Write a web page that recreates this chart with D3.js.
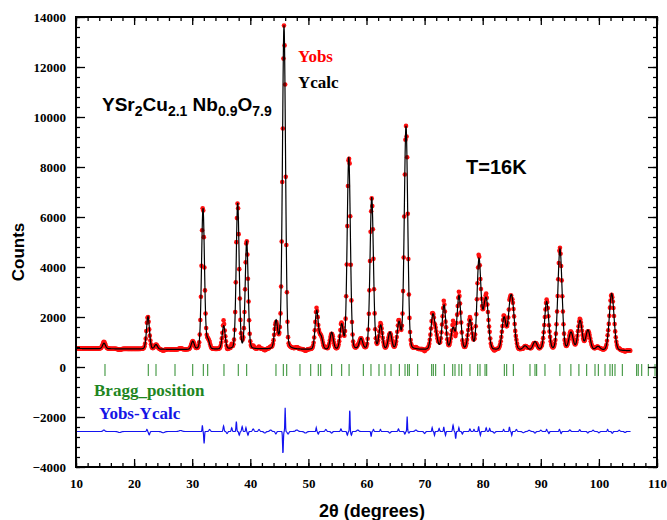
<!DOCTYPE html>
<html>
<head>
<meta charset="utf-8">
<script src="https://d3js.org/d3.v7.min.js"></script>
<style>
  body { margin: 0; background: #fff; }
  .tick text { font-family: "Liberation Serif", "Times New Roman", serif; font-weight: bold; font-size: 13px; fill: #000; }
  .tick line { stroke: #000; stroke-width: 1.3px; }
  .lbl-sans { font-family: "Liberation Sans", Arial, sans-serif; font-weight: bold; }
  .lbl-serif { font-family: "Liberation Serif", "Times New Roman", serif; font-weight: bold; }
</style>
</head>
<body>
<svg id="chart" width="667" height="520"></svg>
<script>
// tick labels
var xTickLabels = [10, 20, 30, 40, 50, 60, 70, 80, 90, 100, 110];
var yTickLabels = [-4000, -2000, 0, 2000, 4000, 6000, 8000, 10000, 12000, 14000];

// calculated pattern: reflections (2theta, net height, fwhm)
var peakPos = [14.82, 22.39, 23.77, 30.09, 31.86, 32.7, 35.42, 37.83, 39.38, 44.42, 45.1, 45.8,
  51.43, 52.17, 54.01, 55.73, 56.95, 59.05, 60.9, 62.44, 64.04, 65.59, 66.8,
  71.4, 71.95, 73.34, 74.89, 75.92, 77.81, 79.36, 80.22, 80.7, 83.67, 84.7, 85.2,
  87.3, 89.0, 91.01, 93.3, 95.2, 96.75, 98.12, 99.84, 102.2];
var peakHeight = [220, 1300, 180, 320, 5650, 350, 930, 5850, 4300, 1100, 250, 12950,
  1550, 500, 680, 980, 7700, 420, 6100, 950, 680, 1050, 8950,
  1300, 500, 1780, 850, 2150, 1180, 3600, 1000, 1600, 1280, 1550, 1350,
  160, 330, 1930, 4050, 700, 1180, 800, 150, 2280];
var peakWidth = [0.6, 0.6, 0.6, 0.6, 0.6, 0.6, 0.6, 0.6, 0.6, 0.62, 0.62, 0.62,
  0.65, 0.65, 0.65, 0.65, 0.65, 0.68, 0.68, 0.68, 0.7, 0.7, 0.7,
  0.74, 0.74, 0.74, 0.76, 0.76, 0.78, 0.78, 0.8, 0.8, 0.8, 0.8, 0.8,
  0.82, 0.82, 0.84, 0.84, 0.86, 0.86, 0.88, 0.9, 0.95];

// background points (2theta, counts)
var bgPos = [10, 20, 30, 40, 50, 60, 70, 80, 90, 100, 105.5];
var bgCounts = [740, 720, 690, 710, 690, 680, 680, 670, 665, 655, 645];

// Yobs - Ycalc features (2theta, amplitude, fwhm)
var resPos = [14.8, 17.5, 22.2, 22.6, 25.0, 28.0, 31.75, 32.05, 33.0, 35.4, 36.0, 36.8, 37.6, 38.1,
  38.6, 39.25, 39.6, 40.5, 41.5, 42.5, 43.5, 44.4, 45.62, 46.0, 46.5, 48.0, 49.5, 51.35, 51.7,
  53.0, 54.0, 55.6, 56.7, 57.12, 57.4, 58.5, 60.8, 61.2, 62.4, 64.0, 65.5, 66.6, 67.0, 67.3,
  68.5, 70.0, 71.3, 71.7, 72.5, 73.3, 73.6, 74.9, 75.35, 75.9, 76.5, 77.8, 78.5, 79.3, 79.6,
  80.6, 81.2, 82.0, 83.6, 84.6, 85.0, 85.8, 87.0, 88.0, 89.0, 90.0, 91.0, 91.4, 93.2, 93.5,
  95.0, 96.7, 98.1, 99.0, 100.0, 101.5, 102.3, 103.5, 104.5];
var resAmp = [60, -40, 80, -130, -50, 40, 250, -480, 80, 220, -80, 150, 400, -150,
  200, 150, -150, 100, 80, -60, 60, -100, -900, 950, -100, 60, -60, 150, -100,
  80, -60, 100, -150, 900, -150, 60, -200, 80, 80, -60, 100, -100, 600, -60,
  60, -80, 150, -150, 120, 180, -150, 250, -290, 150, -100, 100, 80, 200, -150,
  150, 120, -60, 80, 180, -150, 80, -50, 50, -60, 50, 80, -80, 80, -80,
  60, 70, -60, 50, -50, 80, -70, 50, -40];
var resWidth = [0.4, 0.6, 0.2, 0.25, 0.6, 0.6, 0.12, 0.15, 0.3, 0.2, 0.25, 0.2, 0.15, 0.2,
  0.2, 0.15, 0.2, 0.3, 0.3, 0.4, 0.4, 0.25, 0.15, 0.12, 0.3, 0.5, 0.5, 0.14, 0.2,
  0.3, 0.3, 0.2, 0.2, 0.12, 0.2, 0.4, 0.15, 0.2, 0.2, 0.3, 0.2, 0.2, 0.12, 0.2,
  0.4, 0.3, 0.15, 0.15, 0.2, 0.14, 0.15, 0.2, 0.15, 0.15, 0.2, 0.2, 0.2, 0.15, 0.15,
  0.2, 0.2, 0.3, 0.2, 0.15, 0.15, 0.25, 0.4, 0.4, 0.3, 0.3, 0.2, 0.2, 0.2, 0.2,
  0.3, 0.25, 0.25, 0.3, 0.3, 0.2, 0.25, 0.3, 0.3];
var diffOffset = -2580;

// Bragg reflection positions
var braggPos = [14.99, 22.44, 23.77, 27.04, 30.09, 31.91, 32.67, 35.47, 37.93, 39.38, 44.42, 45.68,
  46.27, 48.55, 50.4, 51.7, 52.12, 54.01, 55.73, 57.0, 59.45, 60.77, 62.15, 63.18, 64.22, 65.65,
  66.63, 67.09, 67.37, 68.81, 71.22, 71.5, 71.91, 73.39, 74.84, 75.23, 75.92, 76.38, 77.81, 79.14,
  79.54, 80.4, 80.69, 83.72, 84.13, 85.27, 88.14, 89.0, 89.29, 90.72, 93.29, 95.18, 96.56, 97.9,
  99.33, 99.9, 101.05, 101.91, 102.31, 102.77, 104.03, 106.5, 106.77, 107.37, 108.5, 109.66];

var svg = d3.select("#chart");
var pLeft = 76, pRight = 657, pTop = 17, pBottom = 467;

var x = d3.scaleLinear().domain([10, 110]).range([pLeft, pRight]);
var y = d3.scaleLinear().domain([-4000, 14000]).range([pBottom, pTop]);

function pv(t, c, w) {
  var u = (t - c) / w;
  var g = Math.exp(-4 * Math.LN2 * u * u);
  var l = 1 / (1 + 4 * u * u);
  return 0.88 * g + 0.12 * l;
}
function gauss(t, c, w) {
  var u = (t - c) / w;
  return Math.exp(-4 * Math.LN2 * u * u);
}
var bgScale = d3.scaleLinear().domain(bgPos).range(bgCounts);

var pts = d3.range(10, 105.5, 0.05).map(function(t) {
  var calc = bgScale(t);
  for (var i = 0; i < peakPos.length; i++) calc += peakHeight[i] * pv(t, peakPos[i], peakWidth[i]);
  var res = 0;
  for (var j = 0; j < resPos.length; j++) res += resAmp[j] * gauss(t, resPos[j], resWidth[j]);
  return {t: t, calc: calc, obs: calc + res, diff: diffOffset + res};
});
// observed points are measured every 0.1 deg
var obsPts = pts.filter(function(d, i) { return i % 2 === 0; });

svg.append("clipPath").attr("id", "clip").append("rect")
  .attr("x", pLeft).attr("y", pTop).attr("width", pRight - pLeft).attr("height", pBottom - pTop);

var plot = svg.append("g").attr("clip-path", "url(#clip)");

// Yobs
plot.append("g").selectAll("circle")
  .data(obsPts)
  .join("circle")
  .attr("cx", function(d) { return x(d.t); })
  .attr("cy", function(d) { return y(d.obs); })
  .attr("r", 2.3)
  .attr("fill", "#ff1010");

// Ycalc
plot.append("path")
  .datum(pts)
  .attr("fill", "none")
  .attr("stroke", "#000")
  .attr("stroke-width", 1.2)
  .attr("d", d3.line().x(function(d) { return x(d.t); }).y(function(d) { return y(d.calc); }));

// Bragg positions
plot.append("g").selectAll("line")
  .data(braggPos)
  .join("line")
  .attr("x1", function(d) { return x(d); })
  .attr("x2", function(d) { return x(d); })
  .attr("y1", y(120))
  .attr("y2", y(-360))
  .attr("stroke", "#2a8a2a")
  .attr("stroke-width", 1);

// difference
plot.append("path")
  .datum(pts)
  .attr("fill", "none")
  .attr("stroke", "#1414f0")
  .attr("stroke-width", 1.2)
  .attr("d", d3.line().x(function(d) { return x(d.t); }).y(function(d) { return y(d.diff); }));

// axes
var xMinor = d3.range(10, 111, 2), yMinor = d3.range(-4000, 14001, 400);

svg.append("g").attr("transform", "translate(0," + pBottom + ")")
  .call(d3.axisBottom(x).tickValues(xMinor).tickSize(-4).tickFormat(""));
svg.append("g").attr("transform", "translate(0," + pBottom + ")")
  .call(d3.axisBottom(x).tickValues(xTickLabels).tickSize(-8).tickPadding(12).tickFormat(d3.format("d")));
svg.append("g").attr("transform", "translate(0," + pTop + ")")
  .call(d3.axisTop(x).tickValues(xMinor).tickSize(-4).tickFormat(""));
svg.append("g").attr("transform", "translate(0," + pTop + ")")
  .call(d3.axisTop(x).tickValues(xTickLabels).tickSize(-8).tickFormat(""));

svg.append("g").attr("transform", "translate(" + pLeft + ",0)")
  .call(d3.axisLeft(y).tickValues(yMinor).tickSize(-4).tickFormat(""));
svg.append("g").attr("transform", "translate(" + pLeft + ",0)")
  .call(d3.axisLeft(y).tickValues(yTickLabels).tickSize(-9).tickPadding(10).tickFormat(d3.format("d")));
svg.append("g").attr("transform", "translate(" + pRight + ",0)")
  .call(d3.axisRight(y).tickValues(yMinor).tickSize(-4).tickFormat(""));
svg.append("g").attr("transform", "translate(" + pRight + ",0)")
  .call(d3.axisRight(y).tickValues(yTickLabels).tickSize(-9).tickFormat(""));

svg.selectAll(".domain").remove();

svg.append("rect")
  .attr("x", pLeft).attr("y", pTop).attr("width", pRight - pLeft).attr("height", pBottom - pTop)
  .attr("fill", "none").attr("stroke", "#000").attr("stroke-width", 2);

// axis titles
svg.append("text").attr("class", "lbl-sans")
  .attr("transform", "translate(24,252) rotate(-90)")
  .attr("text-anchor", "middle").attr("font-size", 17).text("Counts");
svg.append("text").attr("class", "lbl-sans")
  .attr("x", 372).attr("y", 517).attr("text-anchor", "middle").attr("font-size", 18)
  .text("2θ (degrees)");

// annotations
var f = svg.append("text").attr("class", "lbl-sans").attr("x", 102).attr("y", 111).attr("font-size", 19);
[["YSr", 0], ["2", 1], ["Cu", -1], ["2.1", 1], [" Nb", -1], ["0.9", 1], ["O", -1], ["7.9", 1]].forEach(function(p) {
  var s = f.append("tspan").text(p[0]);
  if (p[1] === 1) s.attr("font-size", 14).attr("dy", 5);
  if (p[1] === -1) s.attr("dy", -5);
});

svg.append("text").attr("class", "lbl-serif").attr("x", 298).attr("y", 62)
  .attr("font-size", 17).attr("fill", "#ff0000").text("Yobs");
svg.append("text").attr("class", "lbl-serif").attr("x", 298).attr("y", 88)
  .attr("font-size", 17).attr("fill", "#000").text("Ycalc");
svg.append("text").attr("class", "lbl-sans").attr("x", 466).attr("y", 174)
  .attr("font-size", 20).text("T=16K");
svg.append("text").attr("class", "lbl-serif").attr("x", 94).attr("y", 396)
  .attr("font-size", 17).attr("fill", "#1f861f").text("Bragg_position");
svg.append("text").attr("class", "lbl-serif").attr("x", 99).attr("y", 419)
  .attr("font-size", 17).attr("fill", "#1414e6").text("Yobs-Ycalc");
</script>
</body>
</html>
